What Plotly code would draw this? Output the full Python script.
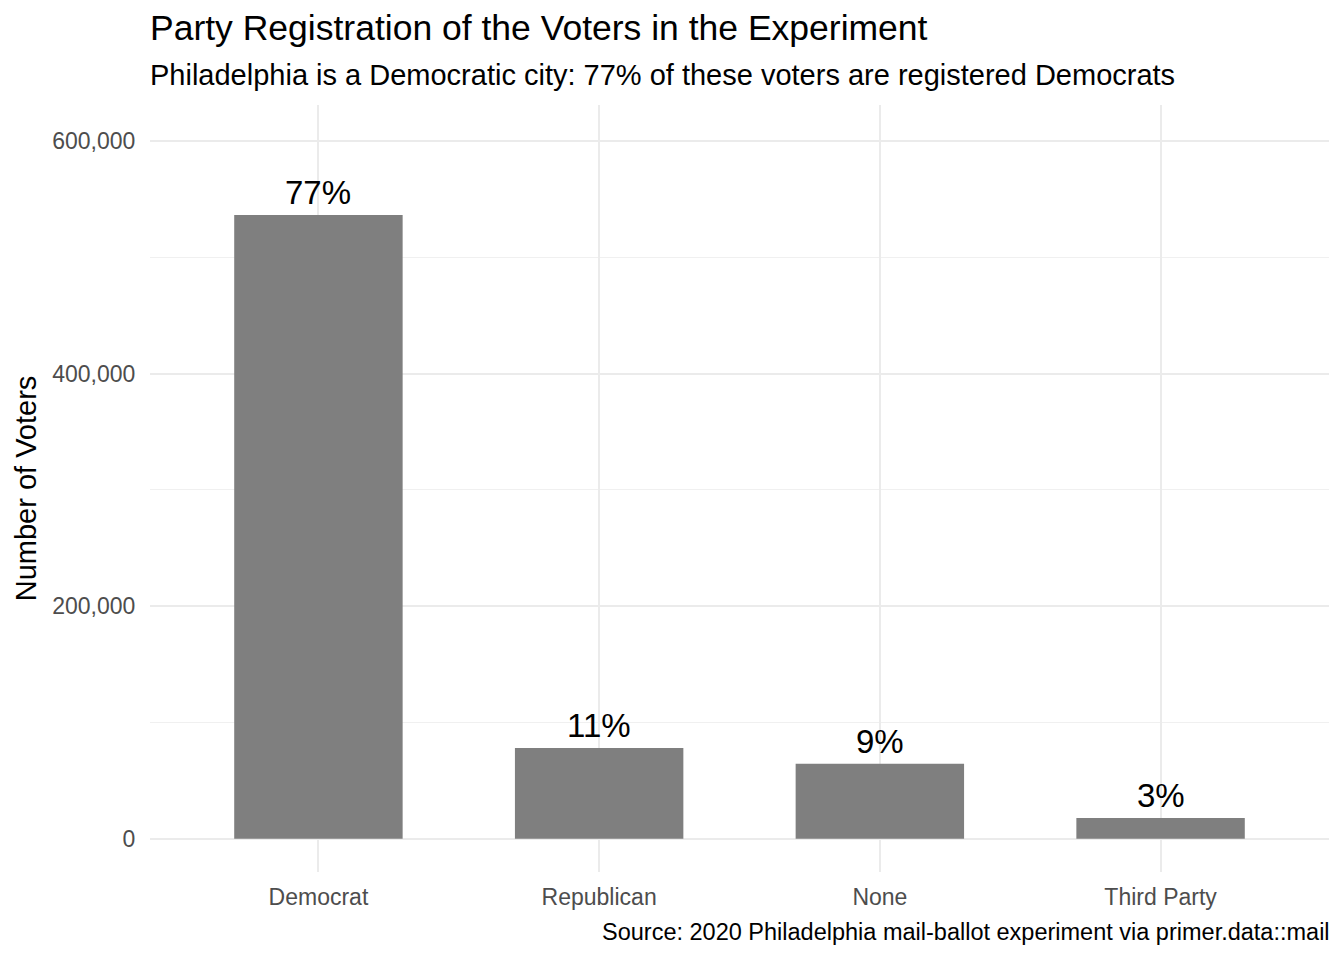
import plotly.graph_objects as go

# data
parties = ["Democrat", "Republican", "None", "Third Party"]
voters = [536400, 78000, 64400, 17800]
pct_labels = ["77%", "11%", "9%", "3%"]

y_tickvals = [0, 200000, 400000, 600000]
y_ticktext = ["0", "200,000", "400,000", "600,000"]

FONT = "Liberation Sans"

# page body has an 8px margin, so the figure is a bit smaller than the window
W, H = 1336, 952
PW = W - 142 - 15  # plot area width in px

fig = go.Figure()
fig.add_trace(go.Bar(
    x=parties, y=voters,
    marker=dict(color="#7f7f7f", line=dict(width=0)),
    width=0.6,
    hoverinfo="x+y",
))

# percentage labels above each bar
for p, v, t in zip(parties, voters, pct_labels):
    fig.add_annotation(x=p, y=v, text=t, showarrow=False,
                       yanchor="bottom", yshift=2,
                       font=dict(family=FONT, size=33, color="black"))

fig.add_annotation(xref="paper", yref="paper", x=-2 / PW, y=1.039,
                   xanchor="left", yanchor="middle", showarrow=False,
                   text="Philadelphia is a Democratic city: 77% of these voters are registered Democrats",
                   font=dict(family=FONT, size=29, color="black"))
fig.add_annotation(xref="paper", yref="paper", x=1 + 3 / PW, y=-0.078,
                   xanchor="right", yanchor="middle", showarrow=False,
                   text="Source: 2020 Philadelphia mail-ballot experiment via primer.data::mail",
                   font=dict(family=FONT, size=23.5, color="black"))

fig.update_layout(
    width=W, height=H,
    margin=dict(l=142, r=15, t=97, b=88),
    paper_bgcolor="white", plot_bgcolor="white",
    font=dict(family=FONT, color="black"),
    showlegend=False,
    title=dict(text="Party Registration of the Voters in the Experiment",
               x=142 / W, xanchor="left", xref="container",
               y=1 - 20 / H, yanchor="middle", yref="container",
               font=dict(family=FONT, size=35.5, color="black")),
    bargap=0.4,
)

fig.update_xaxes(
    range=[-0.6, 3.6],
    showgrid=True, gridcolor="#ebebeb", gridwidth=2,
    ticks="outside", ticklen=4, tickcolor="rgba(0,0,0,0)",
    tickfont=dict(family=FONT, size=23, color="#4d4d4d"),
    showline=False, zeroline=False,
)
fig.update_yaxes(
    range=[-28640, 631000],
    tickvals=y_tickvals, ticktext=y_ticktext,
    showgrid=True, gridcolor="#ebebeb", gridwidth=2,
    minor=dict(dtick=100000, showgrid=True, gridcolor="#f0f0f0", gridwidth=1),
    ticks="outside", ticklen=9, tickcolor="rgba(0,0,0,0)",
    tickfont=dict(family=FONT, size=23, color="#4d4d4d"),
    title=dict(text="Number of Voters", standoff=7,
               font=dict(family=FONT, size=29, color="black")),
    showline=False, zeroline=False,
)

fig.write_html("out.html")
